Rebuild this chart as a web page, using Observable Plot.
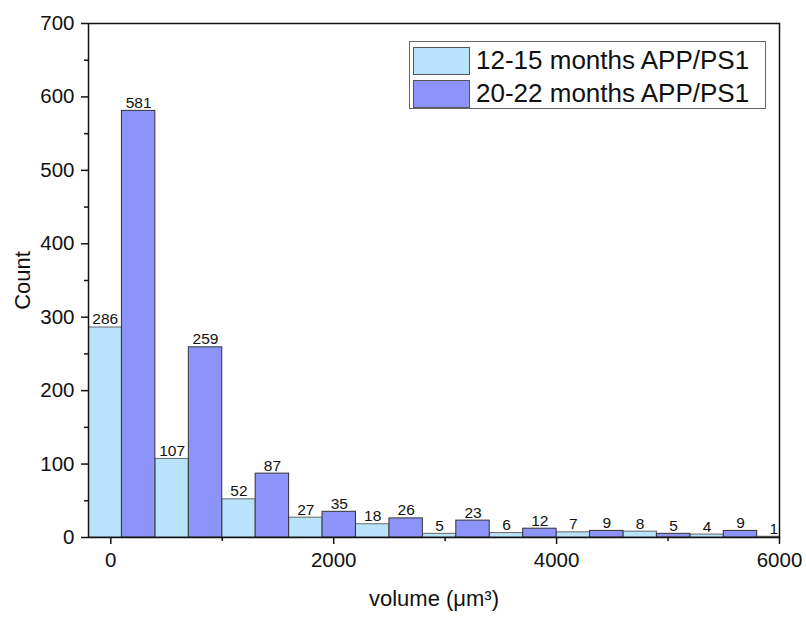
<!DOCTYPE html>
<html>
<head>
<meta charset="utf-8">
<script src="https://cdn.jsdelivr.net/npm/d3@7"></script>
<script src="https://cdn.jsdelivr.net/npm/@observablehq/plot@0.6"></script>
<style>
  html, body { margin: 0; padding: 0; background: #fff; }
  #wrap { position: relative; width: 806px; height: 617px; font-family: "Liberation Sans", Arial, sans-serif; }
  #legend { position: absolute; left: 409px; top: 41px; width: 357px; height: 68px; border: 1px solid #666; background: #fff; box-sizing: border-box; }
  .row { position: absolute; left: 3px; display: flex; align-items: center; }
  .sw { width: 57px; height: 28px; border: 1px solid #555; box-sizing: border-box; }
  .lb { margin-left: 6px; font-size: 26px; color: #111; white-space: nowrap; }
</style>
</head>
<body>
<div id="wrap"></div>
<script>
// Data
const seriesNames = ["12-15 months APP/PS1", "20-22 months APP/PS1"];
const seriesColors = ["#b8e3fb", "#8c94fa"];
const groupStarts = [-200, 400, 1000, 1600, 2200, 2800, 3400, 4000, 4600, 5200, 5800]; // µm³
const halfWidth = 300; // µm³ per bar
const young = [286, 107, 52, 27, 18, 5, 6, 7, 8, 4, 1];
const old = [581, 259, 87, 35, 26, 23, 12, 9, 5, 9];
const xTicks = [0, 2000, 4000, 6000];
const xMinor = [1000, 3000, 5000];
const yTicks = [0, 100, 200, 300, 400, 500, 600, 700];
const yMinor = [50, 150, 250, 350, 450, 550, 650];

const rows = [];
young.forEach((v, i) => rows.push({series: seriesNames[0], x1: groupStarts[i], x2: groupStarts[i] + halfWidth, value: v}));
old.forEach((v, i) => rows.push({series: seriesNames[1], x1: groupStarts[i] + halfWidth, x2: groupStarts[i] + 2 * halfWidth, value: v}));

const font = "Liberation Sans, Arial, sans-serif";
const fmt = d => String(d);
const chart = Plot.plot({
  width: 806,
  height: 617,
  marginLeft: 88,
  marginRight: 27,
  marginTop: 23,
  marginBottom: 80,
  style: {fontFamily: font, background: "#fff", color: "#111"},
  x: {domain: [-200, 6000]},
  y: {domain: [0, 700]},
  color: {domain: seriesNames, range: seriesColors},
  marks: [
    Plot.rect(rows, {x1: "x1", x2: "x2", y1: 0, y2: "value", fill: "series",
      stroke: d => d.series === seriesNames[0] ? "#666" : "#333", strokeWidth: 1, clip: true}),
    Plot.text(rows, {x: d => (d.x1 + d.x2) / 2, y: "value", text: d => String(d.value),
      lineAnchor: "bottom", dy: -3, fontSize: 15.5, fill: "#111", clip: true}),
    Plot.axisY(yTicks, {tickSize: 7, tickPadding: 7, fontSize: 20.5, tickFormat: fmt, label: null, stroke: "#111", strokeWidth: 1.5}),
    Plot.axisY(yMinor, {tickSize: 4, text: null, label: null, stroke: "#111", strokeWidth: 1.5}),
    Plot.axisX(xTicks, {tickSize: 7, tickPadding: 8, fontSize: 20.5, tickFormat: fmt, label: null, stroke: "#111", strokeWidth: 1.5}),
    Plot.axisX(xMinor, {tickSize: 4, text: null, label: null, stroke: "#111", strokeWidth: 1.5}),
    Plot.frame({stroke: "#111", strokeWidth: 1.5}),
    Plot.text(["Count"], {frameAnchor: "left", textAnchor: "middle", lineAnchor: "middle", rotate: -90, dx: -65.5, fontSize: 22, fill: "#111"}),
    Plot.text(["volume (μm³)"], {frameAnchor: "bottom", textAnchor: "middle", lineAnchor: "middle", dy: 61, fontSize: 22, fill: "#111"})
  ]
});

const wrap = document.getElementById("wrap");
wrap.appendChild(chart);
const legend = document.createElement("div");
legend.id = "legend";
seriesNames.forEach((name, i) => {
  const row = document.createElement("div");
  row.className = "row";
  row.style.top = (3 + i * 33) + "px";
  const sw = document.createElement("div");
  sw.className = "sw";
  sw.style.background = seriesColors[i];
  const lb = document.createElement("span");
  lb.className = "lb";
  lb.textContent = name;
  row.appendChild(sw);
  row.appendChild(lb);
  legend.appendChild(row);
});
wrap.appendChild(legend);
</script>
</body>
</html>
